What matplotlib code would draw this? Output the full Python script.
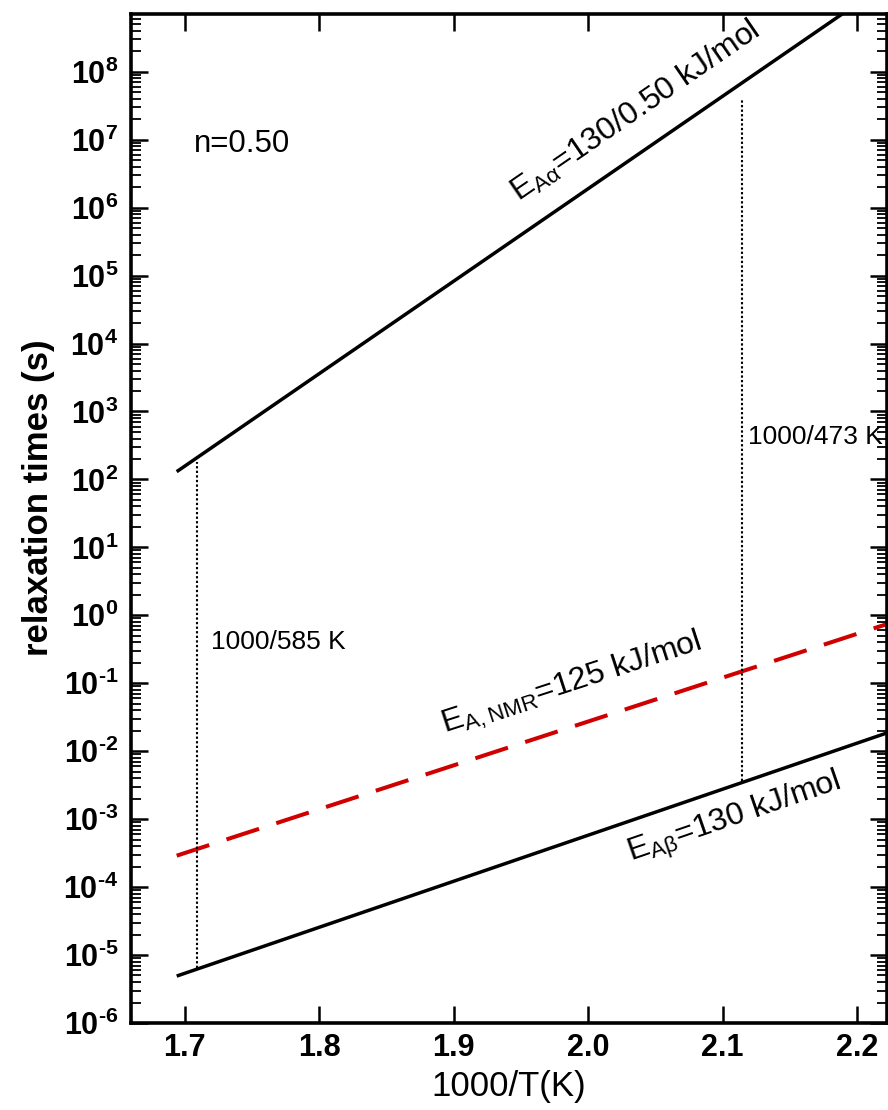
import numpy as np
import matplotlib
matplotlib.use("Agg")
import matplotlib.pyplot as plt
from matplotlib.ticker import LogLocator, FixedLocator, NullLocator, FuncFormatter

plt.rcParams['font.family'] = ['Liberation Sans', 'DejaVu Sans']
plt.rcParams['mathtext.fontset'] = 'custom'
plt.rcParams['mathtext.rm'] = 'Liberation Sans'
plt.rcParams['mathtext.it'] = 'Liberation Sans:italic'
plt.rcParams['mathtext.bf'] = 'Liberation Sans:bold'

# line end points (1000/T, tau in s)
x_alpha = [1.694, 2.20]
tau_alpha = [1.3e2, 1.0e9]
x_beta = [1.694, 2.222]
tau_beta = [4.9e-6, 1.85e-2]
x_nmr = [1.694, 2.222]
tau_nmr = [2.9e-4, 7.4e-1]

# dotted temperature markers
x_marks = [1000 / 585, 1000 / 473]
mark_low = [6.5e-6, 3.7e-3]
mark_high = [1.8e2, 4.0e7]
mark_labels = ["1000/585 K", "1000/473 K"]

xticks = [1.7, 1.8, 1.9, 2.0, 2.1, 2.2]


def ytick_label(v, pos):
    e = int(round(np.log10(v)))
    s = str(e).replace('-', '\u2010')
    return r"$\mathbf{10^{%s}}$" % s


fig = plt.figure(figsize=(8.88, 11.10), dpi=100)
ax = fig.add_axes([0.1475, 0.0784, 0.8514, 0.909])

ax.plot(x_alpha, tau_alpha, color='black', lw=2.5, solid_capstyle='butt')
ax.plot(x_beta, tau_beta, color='black', lw=2.5, solid_capstyle='butt')
ax.plot(x_nmr, tau_nmr, color='#d00000', lw=2.9, dashes=(8.5, 4.5))

for xm, lo, hi in zip(x_marks, mark_low, mark_high):
    ax.plot([xm, xm], [lo, hi], color='black', lw=1.5, ls=(0, (1.1, 1.1)))

ax.set_yscale('log')
ax.set_xlim(1.66, 2.2223)
ax.set_ylim(1e-6, 10 ** 8.85)

ax.xaxis.set_major_locator(FixedLocator(xticks))
ax.xaxis.set_minor_locator(NullLocator())
ax.xaxis.set_major_formatter(FuncFormatter(lambda v, p: "%.1f" % v))
ax.yaxis.set_major_locator(LogLocator(base=10, numticks=30))
ax.yaxis.set_minor_locator(LogLocator(base=10, subs=np.arange(2, 10), numticks=30))
ax.yaxis.set_major_formatter(FuncFormatter(ytick_label))

ax.tick_params(which='both', direction='in', top=True, right=True)
ax.tick_params(which='major', length=12, width=1.8, labelsize=22)
ax.tick_params(which='minor', length=7, width=1.3)
ax.tick_params(axis='x', pad=7)
ax.tick_params(axis='y', pad=9)
for lab in ax.get_xticklabels():
    lab.set_fontweight('bold')
for s in ax.spines.values():
    s.set_linewidth(2.6)

ax.set_xlabel("1000/T(K)", fontsize=25)
ax.xaxis.set_label_coords(0.5, -0.047)
ax.set_ylabel("relaxation times (s)", fontsize=25, fontweight='bold')
ax.yaxis.set_label_coords(-0.10, 0.521)

ax.text(1.743, 8.5e6, "n=0.50", fontsize=22.5, ha='center', va='center')
ax.text(1.7193, 10 ** -0.40, mark_labels[0], fontsize=19, ha='left', va='center')
ax.text(2.1186, 10 ** 2.63, mark_labels[1], fontsize=19, ha='left', va='center')

ax.text(2.035, 10 ** 7.42, r"E$_{\mathrm{A\alpha}}$=130/0.50 kJ/mol", fontsize=23,
        rotation=34.5, rotation_mode='anchor', ha='center', va='center')
ax.text(1.988, 10 ** -1.02, r"E$_{\mathrm{A,NMR}}$=125 kJ/mol", fontsize=23,
        rotation=18, rotation_mode='anchor', ha='center', va='center')
ax.text(2.109, 10 ** -3.0, r"E$_{\mathrm{A\beta}}$=130 kJ/mol", fontsize=23,
        rotation=19, rotation_mode='anchor', ha='center', va='center')

fig.savefig("out.png", dpi=100)
